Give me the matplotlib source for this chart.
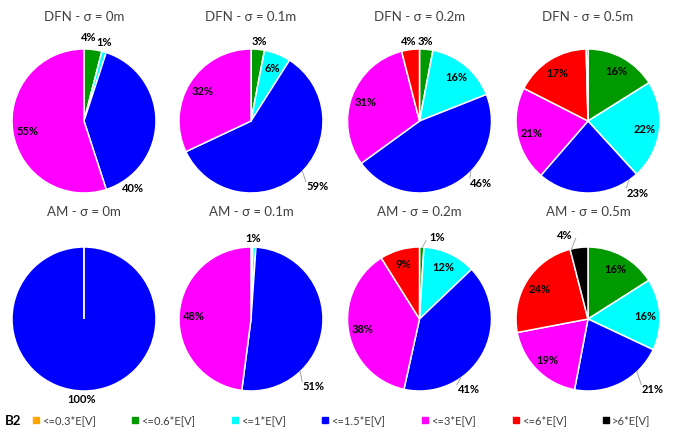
import numpy as np
import matplotlib
matplotlib.use('Agg')
import matplotlib.pyplot as plt

plt.rcParams['font.family'] = ['Lato', 'DejaVu Sans']

categories = ['<=0.3*E[V]', '<=0.6*E[V]', '<=1*E[V]', '<=1.5*E[V]',
              '<=3*E[V]', '<=6*E[V]', '>6*E[V]']
colors = ['#FFA500', '#009900', '#00FFFF', '#0000FF',
          '#FF00FF', '#FF0000', '#000000']

titles = ['DFN - σ = 0m', 'DFN - σ = 0.1m', 'DFN - σ = 0.2m', 'DFN - σ = 0.5m',
          'AM - σ = 0m', 'AM - σ = 0.1m', 'AM - σ = 0.2m', 'AM - σ = 0.5m']

# percentages per category, same order as categories
dfn_0 = [0, 4, 1, 40, 55, 0, 0]
dfn_01 = [0, 3, 6, 59, 32, 0, 0]
dfn_02 = [0, 3, 16, 46, 31, 4, 0]
dfn_05 = [0, 16, 22, 23, 21, 17, 0.4]
am_0 = [0, 0, 0, 100, 0, 0, 0]
am_01 = [0.4, 0, 0.7, 51, 48, 0, 0]
am_02 = [0, 1, 12, 41, 38, 9, 0]
am_05 = [0, 16, 16, 21, 19, 24, 4]
pies = [dfn_0, dfn_01, dfn_02, dfn_05, am_0, am_01, am_02, am_05]

# label placement for labels Excel put outside (pie index, category): (x, y, leader)
outside = {
    (0, 1): (0.07, 1.17, False), (0, 2): (0.28, 1.11, False), (0, 3): (0.68, -0.93, False),
    (1, 1): (0.11, 1.12, False), (1, 3): (0.92, -0.90, True),
    (2, 1): (0.08, 1.12, False), (2, 5): (-0.15, 1.12, False), (2, 3): (0.86, -0.85, True),
    (3, 3): (0.69, -0.99, True),
    (4, 3): (-0.03, -1.11, False),
    (5, 2): (0.03, 1.13, False), (5, 3): (0.87, -0.93, True),
    (6, 1): (0.25, 1.15, True), (6, 3): (0.68, -0.97, True),
    (7, 6): (-0.33, 1.18, True), (7, 3): (0.90, -0.97, True),
}

fig = plt.figure(figsize=(6.85, 4.39), dpi=100)
W, H = 685.0, 439.0
R = 72.0          # pie radius in pixels
half = 100.0      # half size of each axes box in pixels
centers_x = [84, 251, 419.5, 588]
centers_y = [122, 320]
title_y = [17, 212]

for k, vals in enumerate(pies):
    row, col = divmod(k, 4)
    cx, cy = centers_x[col], centers_y[row]
    ax = fig.add_axes([(cx - half) / W, 1 - (cy + half) / H, 2 * half / W, 2 * half / H])
    idx = [i for i, v in enumerate(vals) if v > 0]
    v = [vals[i] for i in idx]
    wedges, _ = ax.pie(v, colors=[colors[i] for i in idx], startangle=90,
                       counterclock=False, radius=1,
                       wedgeprops=dict(edgecolor='white', linewidth=1.1))
    if len(v) == 1:
        # a full circle has no radial edge, Excel still draws one at the start
        ax.plot([0, 0], [0, 1], color='white', lw=1.3, solid_capstyle='butt')
    lim = half / R
    ax.set_xlim(-lim, lim)
    ax.set_ylim(-lim, lim)
    ax.set_aspect('equal')
    ax.axis('off')

    total = float(sum(v))
    start = 0.0
    for j, i in enumerate(idx):
        frac = v[j] / total
        mid = (start + frac / 2) * 2 * np.pi
        a0, a1 = start * 2 * np.pi, (start + frac) * 2 * np.pi
        start += frac
        if v[j] < 0.5:
            continue
        txt = '%d%%' % round(v[j])
        if (k, i) in outside:
            x, y, leader = outside[(k, i)]
            if leader:
                ang = np.arctan2(x, y) % (2 * np.pi)
                ang = min(max(ang, a0 + 0.02), a1 - 0.02)
                ex, ey = np.sin(ang), np.cos(ang)
                sx, sy = x - 0.16 * np.sign(x), y - 0.06 * np.sign(y)
                ax.plot([ex, sx], [ey, sy], color='#A6A6A6', lw=0.7,
                        clip_on=False, zorder=1)
        else:
            x, y = 0.8 * np.sin(mid), 0.8 * np.cos(mid)
        ax.text(x, y, txt, ha='center', va='center', fontsize=8,
                fontweight='bold', color='black')

    fig.text(cx / W, 1 - title_y[row] / H, titles[k], ha='center', va='center',
             fontsize=9.5, color='#404040')

# legend row
legend_x = [36, 135, 235, 325, 425, 516, 606]
ly = 1 - 421 / H
fig.text(5 / W, ly, 'B2', ha='left', va='center', fontsize=9.5, fontweight='bold')
for x, c, lab in zip(legend_x, colors, categories):
    fig.patches.append(plt.Rectangle(((x - 3) / W, ly - 3 / H), 6 / W, 6 / H,
                                     transform=fig.transFigure, color=c))
    fig.text((x + 6) / W, ly, lab, ha='left', va='center', fontsize=8, color='#404040')

fig.savefig('out.png', dpi=100, facecolor='white')
